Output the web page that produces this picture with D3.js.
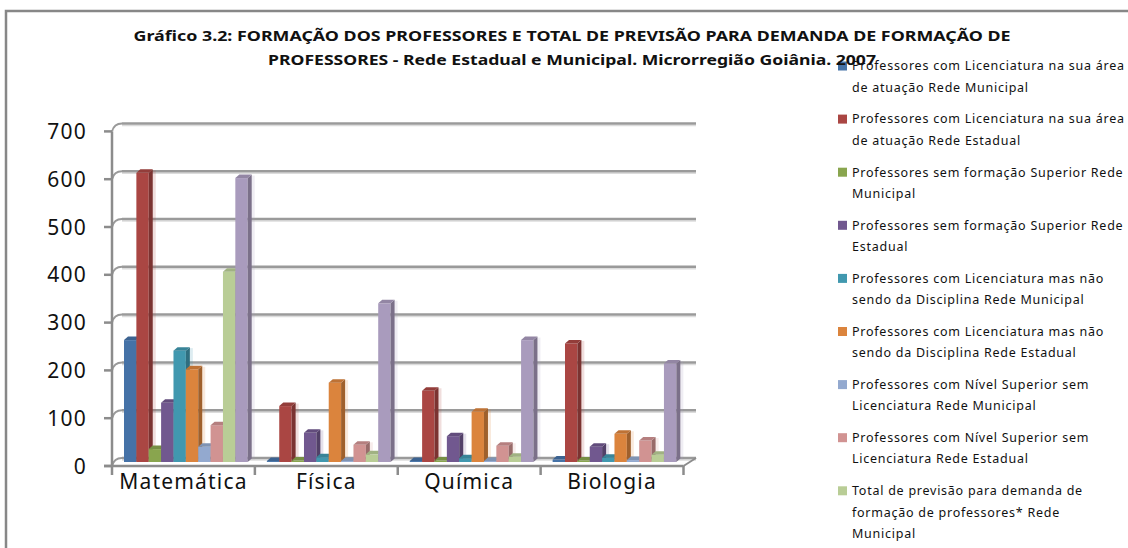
<!DOCTYPE html>
<html>
<head>
<meta charset="utf-8">
<script src="https://cdn.jsdelivr.net/npm/d3@7"></script>
<style>
  body { margin: 0; background: #fff; }
  svg { display: block; }
</style>
</head>
<body>
<div id="chart"></div>
<script>
const W = 1128, H = 548;

// data
const categories = ["Matemática", "Física", "Química", "Biologia"];
const licAreaMun   = [255, 2, 2, 5];
const licAreaEst   = [605, 117, 149, 248];
const semSupMun    = [27, 3, 3, 3];
const semSupEst    = [124, 61, 54, 32];
const licNaoMun    = [233, 10, 8, 9];
const licNaoEst    = [194, 166, 105, 59];
const supSemLicMun = [32, 2, 2, 4];
const supSemLicEst = [77, 36, 34, 45];
const prevMun      = [398, 16, 11, 15];
const prevEst      = [594, 332, 255, 206];
const yTicks = [0, 100, 200, 300, 400, 500, 600, 700];

const seriesLabels = [
  ["Professores com Licenciatura na sua área", "de atuação Rede Municipal"],
  ["Professores com Licenciatura na sua área", "de atuação Rede Estadual"],
  ["Professores sem formação Superior Rede", "Municipal"],
  ["Professores sem formação Superior Rede", "Estadual"],
  ["Professores com Licenciatura mas não", "sendo da Disciplina Rede Municipal"],
  ["Professores com Licenciatura mas não", "sendo da Disciplina Rede Estadual"],
  ["Professores com Nível Superior sem", "Licenciatura Rede Municipal"],
  ["Professores com Nível Superior sem", "Licenciatura Rede Estadual"],
  ["Total de previsão para demanda de", "formação de professores* Rede", "Municipal"],
  ["Total de previsão para demanda de", "formação de professores* Rede", "Estadual"]
];
const seriesValues = [licAreaMun, licAreaEst, semSupMun, semSupEst, licNaoMun,
  licNaoEst, supSemLicMun, supSemLicEst, prevMun, prevEst];
const colors = ["#4572A7", "#AA4643", "#89A54E", "#71588F", "#4198AF",
  "#DB843D", "#93A9CF", "#D19392", "#B9CD96", "#A99BBD"];

const svg = d3.select("#chart").append("svg")
    .attr("width", W)
    .attr("height", H);

// outer chart frame (runs off the picture on the right and bottom)
svg.append("rect")
    .attr("x", 6).attr("y", 11)
    .attr("width", 1200).attr("height", 600)
    .attr("fill", "none")
    .attr("stroke", "#878787")
    .attr("stroke-width", 2.5);

const x0 = d3.scaleBand().domain(categories).range([112, 683.5]);
const x1 = d3.scaleBand().domain(d3.range(seriesValues.length)).range([12, 135.7]);
const y = d3.scaleLinear().domain([0, 700]).range([462, 127.4]);

const front = 4, back = -4, backX = 10;   // pseudo 3d offsets
const dx = 4, dy = -3.5;                  // bar depth

// back wall gridlines
const grid = svg.append("g");
grid.selectAll(".shadow")
  .data(yTicks)
  .join("line")
    .attr("x1", 112 + backX).attr("x2", 696)
    .attr("y1", d => y(d) + back + 2).attr("y2", d => y(d) + back + 2)
    .attr("stroke", "#dcdcdc").attr("stroke-width", 1.5);
grid.selectAll(".gl")
  .data(yTicks)
  .join("line")
    .attr("x1", 112 + backX).attr("x2", 696)
    .attr("y1", d => y(d) + back).attr("y2", d => y(d) + back)
    .attr("stroke", "#9a9a9a").attr("stroke-width", 2.5);

// side wall connectors between front ticks and back gridlines
svg.append("g").selectAll("path")
  .data(yTicks)
  .join("path")
    .attr("d", d => {
      const yf = y(d) + front, yb = y(d) + back;
      return `M112,${yf} Q114,${yb} ${112 + backX},${yb}`;
    })
    .attr("fill", "none")
    .attr("stroke", "#9a9a9a")
    .attr("stroke-width", 2);

// floor
svg.append("path")
    .attr("d", `M683.5,${y(0) + front} L696,${y(0) + back}`)
    .attr("stroke", "#8c8c8c").attr("stroke-width", 2).attr("fill", "none");

// bars
const cats = svg.append("g").selectAll("g")
  .data(categories)
  .join("g")
    .attr("transform", d => `translate(${x0(d)},0)`);

const bw = x1.bandwidth();
const bar = cats.selectAll("g")
  .data((c, ci) => seriesValues.map((s, i) => ({ i, v: s[ci] })))
  .join("g");

bar.append("rect")   // soft shadow
    .attr("x", d => x1(d.i) + bw + dx - 1)
    .attr("y", d => y(d.v) + dy + 1)
    .attr("width", 4)
    .attr("height", d => y(0) - y(d.v))
    .attr("fill", d => colors[d.i])
    .attr("opacity", 0.18);
bar.append("rect")
    .attr("x", d => x1(d.i))
    .attr("y", d => y(d.v))
    .attr("width", bw)
    .attr("height", d => y(0) - y(d.v))
    .attr("fill", d => colors[d.i]);
bar.append("path")
    .attr("d", d => {
      const xr = x1(d.i) + bw, t = y(d.v), b = y(0);
      return `M${xr},${t} L${xr + dx},${t + dy} L${xr + dx},${b + dy} L${xr},${b} Z`;
    })
    .attr("fill", d => d3.color(colors[d.i]).darker(0.9));
bar.append("path")
    .attr("d", d => {
      const xl = x1(d.i), t = y(d.v);
      return `M${xl},${t} L${xl + dx},${t + dy} L${xl + bw + dx},${t + dy} L${xl + bw},${t} Z`;
    })
    .attr("fill", d => d3.color(colors[d.i]).darker(0.4));

// front axes
const axisColor = "#8c8c8c";
svg.append("line")
    .attr("x1", 112).attr("x2", 112)
    .attr("y1", y(700) + front).attr("y2", y(0) + front + 9)
    .attr("stroke", axisColor).attr("stroke-width", 2.5);
svg.append("line")
    .attr("x1", 104).attr("x2", 683.5)
    .attr("y1", y(0) + front).attr("y2", y(0) + front)
    .attr("stroke", axisColor).attr("stroke-width", 2.5);
svg.append("g").selectAll("line")
  .data(yTicks)
  .join("line")
    .attr("x1", 104).attr("x2", 112)
    .attr("y1", d => y(d) + front).attr("y2", d => y(d) + front)
    .attr("stroke", axisColor).attr("stroke-width", 2.5);
svg.append("g").selectAll("line")
  .data(x0.domain().map(d => x0(d) + x0.bandwidth()))
  .join("line")
    .attr("x1", d => d).attr("x2", d => d)
    .attr("y1", y(0) + front).attr("y2", y(0) + front + 9)
    .attr("stroke", axisColor).attr("stroke-width", 2.5);

// tick labels
svg.append("g").selectAll("text")
  .data(yTicks)
  .join("text")
    .attr("x", 87)
    .attr("y", d => y(d) + front)
    .attr("dy", "0.36em")
    .attr("text-anchor", "end")
    .attr("font-family", "Noto Sans")
    .attr("font-size", 21)
    .attr("letter-spacing", 1.2)
    .attr("fill", "#111")
    .text(d => d);

svg.append("g").selectAll("text")
  .data(categories)
  .join("text")
    .attr("x", d => x0(d) + x0.bandwidth() / 2)
    .attr("y", 481)
    .attr("dy", "0.36em")
    .attr("text-anchor", "middle")
    .attr("font-family", "Noto Sans")
    .attr("font-size", 21)
    .attr("letter-spacing", 1.2)
    .attr("fill", "#111")
    .text(d => d);

// legend (the last entry falls below the picture, as in the original)
const legend = svg.append("g");
const entries = legend.selectAll("g")
  .data(seriesLabels.map((lines, i) => ({ lines, i })).filter(d => 66 + 53.1 * d.i < H - 20))
  .join("g")
    .attr("transform", d => `translate(838,${66 + 53.1 * d.i})`);
entries.append("rect")
    .attr("x", 0).attr("y", -4.5)
    .attr("width", 9).attr("height", 9)
    .attr("fill", d => colors[d.i]);
entries.selectAll("text")
  .data(d => d.lines)
  .join("text")
    .attr("x", 14)
    .attr("y", (d, j) => j * 21.4)
    .attr("dy", "0.35em")
    .attr("font-family", "Noto Sans")
    .attr("font-size", 12.5)
    .attr("letter-spacing", 0.75)
    .attr("fill", "#111")
    .text(d => d);

// title
const titleLines = [
  { text: "Gráfico 3.2: FORMAÇÃO DOS PROFESSORES E TOTAL DE PREVISÃO PARA DEMANDA DE FORMAÇÃO DE", y: 36, w: 877 },
  { text: "PROFESSORES - Rede Estadual e Municipal. Microrregião Goiânia. 2007", y: 60, w: 608 }
];
svg.append("g").selectAll("text")
  .data(titleLines)
  .join("text")
    .attr("x", 572)
    .attr("y", d => d.y)
    .attr("dy", "0.35em")
    .attr("text-anchor", "middle")
    .attr("font-family", "Noto Sans")
    .attr("font-weight", "bold")
    .attr("font-size", 14)
    .attr("textLength", d => d.w)
    .attr("lengthAdjust", "spacingAndGlyphs")
    .attr("fill", "#111")
    .text(d => d.text);
</script>
</body>
</html>
